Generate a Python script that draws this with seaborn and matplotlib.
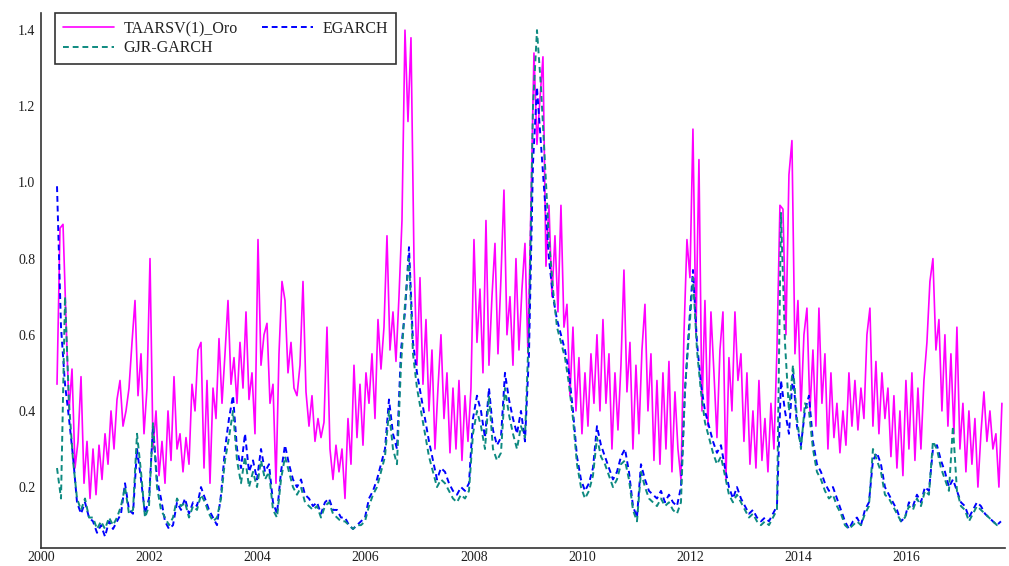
import numpy as np
import pandas as pd
import matplotlib
matplotlib.use("Agg")
import matplotlib.pyplot as plt
import seaborn as sns
from matplotlib.ticker import MultipleLocator, FixedLocator, FuncFormatter

# Weekly-sampled volatility estimates for gold (Oro), 2000-2017
taarsv_start, taarsv_end = 2000.296, 2017.763
taarsv = [
    0.47, 0.88, 0.89, 0.64, 0.40, 0.51, 0.25, 0.32, 0.49, 0.21,
    0.32, 0.17, 0.30, 0.18, 0.31, 0.22, 0.34, 0.26, 0.40, 0.30,
    0.43, 0.48, 0.36, 0.40, 0.46, 0.58, 0.69, 0.44, 0.55, 0.34,
    0.46, 0.80, 0.30, 0.40, 0.23, 0.32, 0.21, 0.40, 0.27, 0.49,
    0.30, 0.34, 0.24, 0.33, 0.26, 0.47, 0.40, 0.56, 0.58, 0.25,
    0.48, 0.21, 0.46, 0.38, 0.59, 0.42, 0.55, 0.69, 0.47, 0.54,
    0.42, 0.58, 0.46, 0.66, 0.43, 0.50, 0.34, 0.85, 0.52, 0.60,
    0.63, 0.42, 0.47, 0.21, 0.55, 0.74, 0.69, 0.50, 0.58, 0.46,
    0.44, 0.52, 0.74, 0.45, 0.36, 0.44, 0.32, 0.38, 0.33, 0.37,
    0.62, 0.30, 0.22, 0.31, 0.24, 0.30, 0.17, 0.38, 0.26, 0.52,
    0.33, 0.47, 0.31, 0.50, 0.42, 0.55, 0.38, 0.64, 0.51, 0.62,
    0.86, 0.56, 0.66, 0.53, 0.70, 0.90, 1.40, 1.16, 1.38, 0.80,
    0.52, 0.75, 0.47, 0.64, 0.40, 0.56, 0.30, 0.46, 0.60, 0.38,
    0.50, 0.29, 0.46, 0.30, 0.48, 0.27, 0.44, 0.32, 0.46, 0.85,
    0.58, 0.72, 0.50, 0.90, 0.52, 0.70, 0.84, 0.55, 0.75, 0.98,
    0.60, 0.70, 0.52, 0.80, 0.56, 0.72, 0.84, 0.55, 0.95, 1.34,
    1.10, 1.22, 1.33, 0.78, 0.94, 0.70, 0.86, 0.66, 0.94, 0.62,
    0.68, 0.44, 0.62, 0.40, 0.54, 0.34, 0.50, 0.36, 0.55, 0.42,
    0.60, 0.40, 0.64, 0.42, 0.55, 0.30, 0.50, 0.35, 0.52, 0.77,
    0.45, 0.58, 0.30, 0.52, 0.34, 0.56, 0.68, 0.40, 0.55, 0.27,
    0.48, 0.26, 0.50, 0.30, 0.53, 0.24, 0.45, 0.30, 0.22, 0.60,
    0.85, 0.75, 1.14, 0.60, 1.06, 0.40, 0.69, 0.36, 0.66, 0.50,
    0.33, 0.56, 0.66, 0.22, 0.54, 0.40, 0.66, 0.48, 0.55, 0.32,
    0.50, 0.26, 0.40, 0.25, 0.48, 0.27, 0.38, 0.24, 0.42, 0.30,
    0.56, 0.94, 0.93, 0.60, 1.02, 1.11, 0.55, 0.69, 0.40, 0.60,
    0.67, 0.40, 0.56, 0.36, 0.67, 0.42, 0.55, 0.30, 0.50, 0.33,
    0.42, 0.29, 0.40, 0.31, 0.50, 0.36, 0.48, 0.35, 0.46, 0.38,
    0.60, 0.67, 0.36, 0.53, 0.34, 0.50, 0.38, 0.46, 0.28, 0.44,
    0.25, 0.40, 0.23, 0.48, 0.30, 0.50, 0.27, 0.46, 0.30, 0.48,
    0.58, 0.74, 0.80, 0.56, 0.64, 0.40, 0.60, 0.36, 0.55, 0.34,
    0.62, 0.30, 0.42, 0.24, 0.40, 0.26, 0.38, 0.20, 0.34, 0.45,
    0.32, 0.40, 0.30, 0.34, 0.20, 0.42,
]

garch_start, garch_end = 2000.296, 2017.745
egarch = [
    0.99, 0.62, 0.47, 0.38, 0.28, 0.16, 0.13, 0.16, 0.12, 0.11,
    0.08, 0.10, 0.07, 0.11, 0.09, 0.11, 0.13, 0.21, 0.14, 0.13,
    0.30, 0.22, 0.13, 0.17, 0.36, 0.22, 0.17, 0.11, 0.09, 0.10,
    0.16, 0.14, 0.17, 0.13, 0.16, 0.15, 0.20, 0.17, 0.14, 0.12,
    0.10, 0.18, 0.30, 0.38, 0.44, 0.30, 0.25, 0.34, 0.24, 0.27,
    0.22, 0.30, 0.24, 0.26, 0.16, 0.13, 0.24, 0.31, 0.26, 0.22,
    0.20, 0.22, 0.18, 0.17, 0.15, 0.16, 0.13, 0.16, 0.17, 0.14,
    0.14, 0.12, 0.12, 0.10, 0.09, 0.10, 0.11, 0.12, 0.17, 0.19,
    0.22, 0.26, 0.30, 0.43, 0.34, 0.30, 0.56, 0.66, 0.83, 0.58,
    0.50, 0.44, 0.38, 0.32, 0.27, 0.22, 0.25, 0.24, 0.21, 0.19,
    0.18, 0.20, 0.19, 0.21, 0.38, 0.44, 0.40, 0.33, 0.46, 0.35,
    0.31, 0.33, 0.50, 0.43, 0.38, 0.34, 0.40, 0.32, 0.55, 1.05,
    1.25, 1.10, 0.95, 0.80, 0.70, 0.64, 0.60, 0.56, 0.50, 0.40,
    0.28, 0.22, 0.19, 0.21, 0.25, 0.36, 0.31, 0.28, 0.25, 0.22,
    0.24, 0.28, 0.30, 0.24, 0.15, 0.12, 0.26, 0.22, 0.19, 0.18,
    0.17, 0.19, 0.16, 0.18, 0.16, 0.15, 0.20, 0.45, 0.62, 0.77,
    0.58, 0.47, 0.40, 0.36, 0.32, 0.29, 0.31, 0.25, 0.20, 0.17,
    0.20, 0.17, 0.15, 0.13, 0.14, 0.12, 0.11, 0.12, 0.11, 0.13,
    0.15, 0.48, 0.40, 0.34, 0.50, 0.36, 0.31, 0.40, 0.44, 0.32,
    0.26, 0.24, 0.21, 0.19, 0.20, 0.17, 0.14, 0.11, 0.09, 0.11,
    0.12, 0.10, 0.14, 0.16, 0.27, 0.29, 0.26, 0.20, 0.18, 0.16,
    0.14, 0.11, 0.12, 0.16, 0.15, 0.18, 0.16, 0.20, 0.19, 0.30,
    0.31, 0.27, 0.24, 0.20, 0.22, 0.19, 0.16, 0.15, 0.12, 0.14,
    0.16, 0.15, 0.13, 0.12, 0.11, 0.10, 0.11,
]
gjr_garch = [
    0.25, 0.17, 0.70, 0.42, 0.27, 0.17, 0.14, 0.17, 0.12, 0.12,
    0.09, 0.11, 0.09, 0.12, 0.10, 0.12, 0.15, 0.20, 0.13, 0.14,
    0.34, 0.24, 0.12, 0.15, 0.37, 0.20, 0.14, 0.12, 0.10, 0.12,
    0.17, 0.15, 0.16, 0.12, 0.15, 0.14, 0.18, 0.16, 0.13, 0.11,
    0.12, 0.17, 0.27, 0.33, 0.40, 0.27, 0.21, 0.28, 0.20, 0.24,
    0.20, 0.27, 0.22, 0.24, 0.14, 0.12, 0.22, 0.28, 0.24, 0.20,
    0.18, 0.20, 0.16, 0.15, 0.14, 0.15, 0.12, 0.15, 0.16, 0.13,
    0.12, 0.11, 0.11, 0.10, 0.09, 0.10, 0.10, 0.11, 0.15, 0.18,
    0.20, 0.24, 0.28, 0.40, 0.30, 0.26, 0.52, 0.68, 0.80, 0.55,
    0.46, 0.40, 0.34, 0.28, 0.24, 0.20, 0.22, 0.21, 0.19, 0.17,
    0.16, 0.18, 0.17, 0.19, 0.34, 0.40, 0.36, 0.30, 0.44, 0.30,
    0.27, 0.29, 0.46, 0.39, 0.34, 0.30, 0.36, 0.33, 0.62, 1.20,
    1.40, 1.25, 1.05, 0.85, 0.72, 0.62, 0.58, 0.54, 0.47, 0.38,
    0.26, 0.20, 0.17, 0.19, 0.23, 0.33, 0.28, 0.26, 0.23, 0.20,
    0.22, 0.26, 0.27, 0.22, 0.14, 0.11, 0.24, 0.20, 0.17, 0.16,
    0.15, 0.17, 0.15, 0.16, 0.14, 0.13, 0.16, 0.46, 0.60, 0.75,
    0.56, 0.45, 0.37, 0.33, 0.29, 0.26, 0.28, 0.23, 0.18, 0.16,
    0.18, 0.16, 0.14, 0.12, 0.13, 0.11, 0.10, 0.11, 0.10, 0.12,
    0.14, 0.92, 0.58, 0.40, 0.52, 0.38, 0.30, 0.42, 0.40, 0.30,
    0.24, 0.22, 0.19, 0.17, 0.18, 0.15, 0.13, 0.10, 0.09, 0.10,
    0.11, 0.10, 0.13, 0.15, 0.30, 0.27, 0.24, 0.18, 0.17, 0.15,
    0.13, 0.11, 0.12, 0.15, 0.14, 0.17, 0.15, 0.19, 0.18, 0.32,
    0.30, 0.25, 0.22, 0.19, 0.36, 0.19, 0.15, 0.14, 0.11, 0.13,
    0.15, 0.14, 0.13, 0.12, 0.11, 0.10, 0.10,
]

series_labels = ["TAARSV(1)_Oro", "EGARCH", "GJR-GARCH"]
year_ticks = list(range(2000, 2017, 2))

t_taarsv = np.linspace(taarsv_start, taarsv_end, len(taarsv))
t_garch = np.linspace(garch_start, garch_end, len(egarch))

df_taarsv = pd.DataFrame({"year": t_taarsv, "vol": taarsv})
df_eg = pd.DataFrame({"year": t_garch, "vol": egarch})
df_gjr = pd.DataFrame({"year": t_garch, "vol": gjr_garch})

sns.set_style("white")
plt.rcParams["font.family"] = ["Liberation Serif", "DejaVu Serif"]

fig = plt.figure(figsize=(10.09, 5.66), dpi=100)
ax = fig.add_axes([41 / 1009, 1 - 548 / 566, 964 / 1009, 535 / 566])

sns.lineplot(data=df_taarsv, x="year", y="vol", ax=ax, color="#FF00FF",
             linewidth=1.2, sort=False, label=series_labels[0])
sns.lineplot(data=df_eg, x="year", y="vol", ax=ax, color="#0000FF",
             linewidth=1.4, linestyle=(0, (3, 2)), sort=False, label=series_labels[1])
sns.lineplot(data=df_gjr, x="year", y="vol", ax=ax, color="#0E8A80",
             linewidth=1.4, linestyle=(0, (3, 2)), sort=False, label=series_labels[2])

ax.set_xlim(2000.0, 2017.82)
ax.set_ylim(0.04, 1.445)
ax.set_xlabel("")
ax.set_ylabel("")

for side in ("top", "right"):
    ax.spines[side].set_visible(False)
for side in ("left", "bottom"):
    ax.spines[side].set_color("#333333")
    ax.spines[side].set_linewidth(1.2)

ax.xaxis.set_major_locator(FixedLocator(year_ticks))
ax.xaxis.set_major_formatter(FuncFormatter(lambda v, p: f"{int(round(v))}"))
ax.xaxis.set_minor_locator(MultipleLocator(0.25))
ax.yaxis.set_major_locator(FixedLocator([0.2, 0.4, 0.6, 0.8, 1.0, 1.2, 1.4]))
ax.yaxis.set_major_formatter(FuncFormatter(lambda v, p: f"{v:.1f}"))
ax.yaxis.set_minor_locator(MultipleLocator(0.04))

ax.tick_params(axis="both", which="major", direction="in", length=7, width=1.1,
               colors="#333333", labelsize=10, labelcolor="#1e1e1e")
ax.tick_params(axis="both", which="minor", direction="in", length=4, width=1.0,
               colors="#333333")
ax.tick_params(axis="x", which="major", pad=2.5)
ax.tick_params(axis="y", which="major", pad=4)

handles, labels = ax.get_legend_handles_labels()
order = [0, 2, 1]
leg = ax.legend([handles[i] for i in order], [labels[i] for i in order],
                loc="upper left", bbox_to_anchor=(0.0145, 1.0), borderaxespad=0,
                ncol=2, frameon=True, fancybox=False, fontsize=11.5,
                handlelength=3.2, handletextpad=0.6, columnspacing=1.5,
                borderpad=0.5, labelspacing=0.2)
leg.get_frame().set_edgecolor("black")
leg.get_frame().set_linewidth(1.2)
for txt in leg.get_texts():
    txt.set_color("#222222")

fig.savefig("out.png", dpi=100, facecolor="white")
